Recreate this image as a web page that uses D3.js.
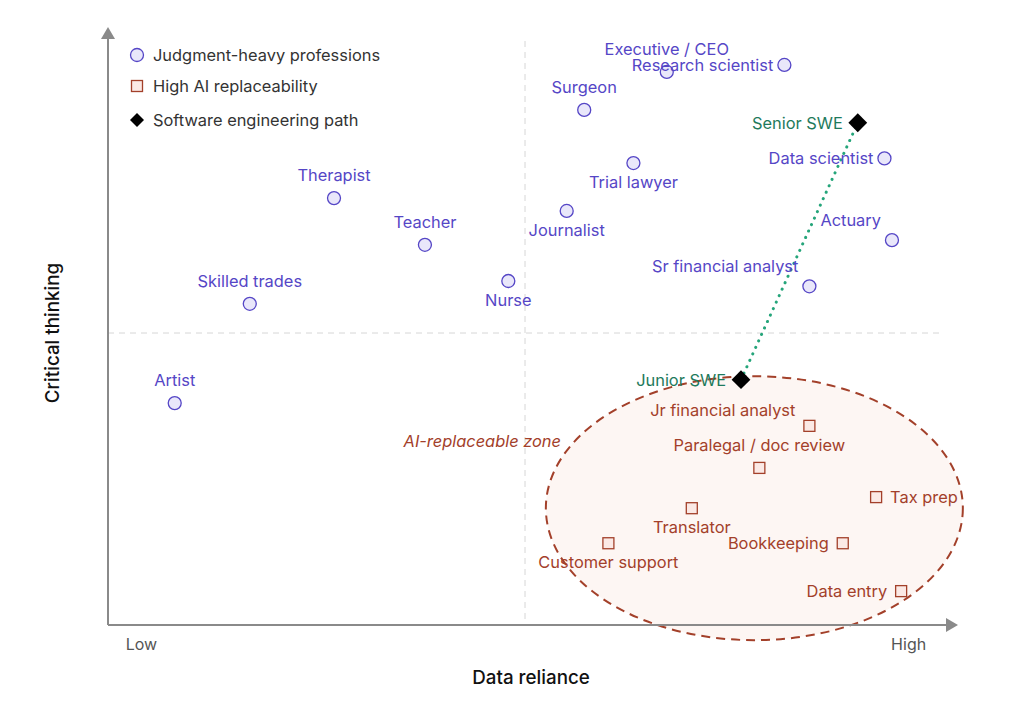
<!DOCTYPE html>
<html><head><meta charset="utf-8">
<script src="https://cdn.jsdelivr.net/npm/d3@7/dist/d3.min.js"></script>
<style>
body{margin:0;background:#fff;}
text{font-family:Inter,"Noto Sans",sans-serif;}
</style></head>
<body><svg id="c" width="1023" height="723"></svg>
<script>
// ---- data ----
const judgmentNames = ["Artist","Skilled trades","Therapist","Teacher","Nurse","Journalist","Surgeon","Trial lawyer","Executive / CEO","Research scientist","Data scientist","Actuary","Sr financial analyst"];
const judgmentX = [0.80,1.70,2.71,3.80,4.80,5.50,5.71,6.30,6.70,8.11,9.31,9.40,8.41];
const judgmentY = [3.80,5.50,7.31,6.51,5.89,7.09,8.82,7.91,9.47,9.59,7.99,6.59,5.80];
const judgmentLabelPos = ["top","top","top","top","bottom","bottom","top","bottom","top","left","left","topleft","topleft"];

const replaceNames = ["Jr financial analyst","Paralegal / doc review","Tax prep","Translator","Customer support","Bookkeeping","Data entry"];
const replaceX = [8.41,7.81,9.21,7.00,6.00,8.81,9.51];
const replaceY = [3.41,2.69,2.19,2.00,1.40,1.40,0.58];
const replaceLabelPos = ["topleft","top","right","bottom","bottom","left","left"];

const sweNames = ["Junior SWE","Senior SWE"];
const sweX = [7.59,8.99];
const sweY = [4.20,8.60];

const zoneCenter = [7.75,2.0];
const zoneRadii = [2.5,2.26];

const legendItems = ["Judgment-heavy professions","High AI replaceability","Software engineering path"];
const xTickLabels = ["Low","High"];
const axisTitles = ["Data reliance","Critical thinking"];

// ---- drawing ----
const svg = d3.select("#c");
const x = d3.scaleLinear().domain([0,10]).range([108,942]);
const y = d3.scaleLinear().domain([0,10]).range([625,41]);

const purple="#5546c6", red="#a3402a", green="#1e7a5c";
const FS = 16.4;

// zone ellipse
svg.append("ellipse")
  .attr("cx",x(zoneCenter[0])).attr("cy",y(zoneCenter[1]))
  .attr("rx",x(zoneRadii[0])-x(0)).attr("ry",y(0)-y(zoneRadii[1]))
  .attr("fill","#fdf4f1").attr("fill-opacity",0.85)
  .attr("stroke","#a3402a").attr("stroke-width",2).attr("stroke-dasharray","9,6");

// midlines
svg.append("line").attr("x1",x(5)).attr("x2",x(5)).attr("y1",y(10)).attr("y2",y(0))
  .attr("stroke","#d6d6d6").attr("stroke-dasharray","6,5");
svg.append("line").attr("x1",x(0)).attr("x2",x(10)).attr("y1",y(5)).attr("y2",y(5))
  .attr("stroke","#d6d6d6").attr("stroke-dasharray","6,5");

// axes
svg.append("line").attr("x1",x(0)).attr("y1",y(0)).attr("x2",x(10)+6).attr("y2",y(0))
  .attr("stroke","#8a8a8a").attr("stroke-width",2);
svg.append("path").attr("d",`M${x(10)+4},${y(0)-7}L${x(10)+16},${y(0)}L${x(10)+4},${y(0)+7}Z`).attr("fill","#8a8a8a");
svg.append("line").attr("x1",x(0)).attr("y1",y(0)).attr("x2",x(0)).attr("y2",y(10)-4)
  .attr("stroke","#8a8a8a").attr("stroke-width",2);
svg.append("path").attr("d",`M${x(0)-7},${y(10)-2}L${x(0)},${y(10)-14}L${x(0)+7},${y(10)-2}Z`).attr("fill","#8a8a8a");

// tick labels
svg.append("text").attr("x",x(0.4)).attr("y",650).attr("text-anchor","middle").attr("font-size",16).attr("fill","#555").text(xTickLabels[0]);
svg.append("text").attr("x",x(9.6)).attr("y",650).attr("text-anchor","middle").attr("font-size",16).attr("fill","#555").text(xTickLabels[1]);
svg.append("text").attr("x",531).attr("y",684).attr("text-anchor","middle").attr("font-size",18.8).attr("font-weight",500).attr("fill","#111").text(axisTitles[0]);
svg.append("text").attr("transform",`translate(59,333) rotate(-90)`).attr("text-anchor","middle").attr("font-size",18.8).attr("font-weight",500).attr("fill","#111").text(axisTitles[1]);

// zone label
svg.append("text").attr("x",561).attr("y",447).attr("text-anchor","end").attr("font-size",FS).attr("font-style","italic").attr("fill",red).text("AI-replaceable zone");

function labelAttrs(sel,pos,dx,tlOy){
  sel.each(function(d){
    const t=d3.select(this); const p=pos[d.i];
    let ax="middle",ox=0,oy=0;
    if(p==="top"){oy=-17;}
    else if(p==="bottom"){oy=25;}
    else if(p==="left"){ax="end";ox=-dx;oy=6;}
    else if(p==="right"){ax="start";ox=dx;oy=6;}
    else if(p==="topleft"){ax="end";ox=-dx;oy=tlOy;}
    t.attr("x",x(d.x)+ox).attr("y",y(d.y)+oy).attr("text-anchor",ax);
  });
}

// path line
svg.append("line").attr("x1",x(sweX[0])).attr("y1",y(sweY[0])).attr("x2",x(sweX[1])).attr("y2",y(sweY[1]))
  .attr("stroke","#25a57a").attr("stroke-width",3).attr("stroke-linecap","round").attr("stroke-dasharray","0.1,7");

// judgment points
const jd = judgmentNames.map((n,i)=>({n,i,x:judgmentX[i],y:judgmentY[i]}));
svg.append("g").selectAll("circle").data(jd).join("circle")
  .attr("cx",d=>x(d.x)).attr("cy",d=>y(d.y)).attr("r",6.5)
  .attr("fill","#e9e7fa").attr("stroke",purple).attr("stroke-width",1.3);
svg.append("g").selectAll("text").data(jd).join("text")
  .attr("font-size",FS).attr("fill",purple).text(d=>d.n)
  .call(labelAttrs,judgmentLabelPos,11,-14);

// replace points
const rd = replaceNames.map((n,i)=>({n,i,x:replaceX[i],y:replaceY[i]}));
svg.append("g").selectAll("rect").data(rd).join("rect")
  .attr("x",d=>x(d.x)-5.5).attr("y",d=>y(d.y)-5.5).attr("width",11).attr("height",11)
  .attr("fill","#fbe9e5").attr("stroke",red).attr("stroke-width",1.3);
svg.append("g").selectAll("text").data(rd).join("text")
  .attr("font-size",FS).attr("fill",red).text(d=>d.n)
  .call(labelAttrs,replaceLabelPos,14,-10);

// swe points
const sd = sweNames.map((n,i)=>({n,i,x:sweX[i],y:sweY[i]}));
const sym = d3.symbol().type(d3.symbolDiamond2).size(225);
svg.append("g").selectAll("path").data(sd).join("path")
  .attr("transform",d=>`translate(${x(d.x)},${y(d.y)})`).attr("d",sym).attr("fill","#000");
svg.append("g").selectAll("text").data(sd).join("text")
  .attr("font-size",FS).attr("fill",green).attr("text-anchor","end")
  .attr("x",d=>x(d.x)-15).attr("y",d=>y(d.y)+6).text(d=>d.n);

// legend
const lg = svg.append("g");
lg.append("circle").attr("cx",137).attr("cy",55).attr("r",6.5).attr("fill","#e9e7fa").attr("stroke",purple).attr("stroke-width",1.3);
lg.append("rect").attr("x",131.5).attr("y",80.5).attr("width",11).attr("height",11).attr("fill","#fbe9e5").attr("stroke",red).attr("stroke-width",1.3);
lg.append("path").attr("transform","translate(137,120)").attr("d",d3.symbol().type(d3.symbolDiamond2).size(125)).attr("fill","#000");
legendItems.forEach((t,i)=>{
  lg.append("text").attr("x",153).attr("y",[61,92,126][i]).attr("font-size",FS).attr("fill","#333").text(t);
});
</script></body></html>
